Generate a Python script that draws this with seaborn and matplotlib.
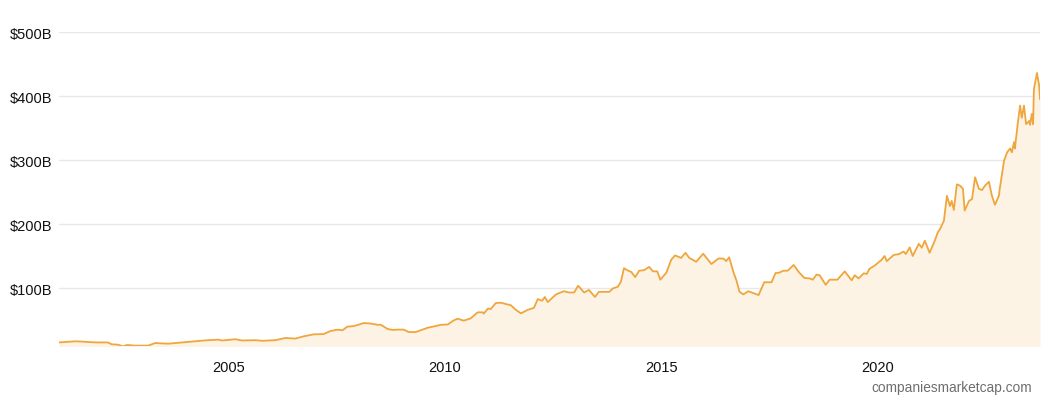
import matplotlib
matplotlib.use("Agg")
import matplotlib.pyplot as plt
import matplotlib.ticker as mticker
import numpy as np
import pandas as pd
import seaborn as sns

# market cap history (decimal year, billions USD)
years = [
    2001.09, 2001.46, 2001.57, 2001.92, 2002.22, 2002.31, 2002.45, 2002.57, 2002.66, 2002.85,
    2003.15, 2003.31, 2003.61, 2003.94, 2004.24, 2004.47, 2004.77, 2004.86, 2005.16, 2005.32,
    2005.63, 2005.79, 2006.09, 2006.32, 2006.55, 2006.74, 2006.97, 2007.20, 2007.36, 2007.52,
    2007.64, 2007.75, 2007.89, 2008.01, 2008.13, 2008.29, 2008.45, 2008.52, 2008.68, 2008.80,
    2008.91, 2009.05, 2009.17, 2009.33, 2009.49, 2009.61, 2009.75, 2009.91, 2010.07, 2010.21,
    2010.30, 2010.44, 2010.60, 2010.76, 2010.88, 2010.90, 2011.00, 2011.06, 2011.18, 2011.30,
    2011.41, 2011.53, 2011.64, 2011.76, 2011.92, 2012.06, 2012.15, 2012.25, 2012.31, 2012.38,
    2012.57, 2012.75, 2012.87, 2012.99, 2013.08, 2013.22, 2013.33, 2013.47, 2013.56, 2013.80,
    2013.89, 2014.00, 2014.07, 2014.14, 2014.24, 2014.31, 2014.40, 2014.49, 2014.61, 2014.72,
    2014.81, 2014.91, 2014.98, 2015.12, 2015.23, 2015.32, 2015.46, 2015.56, 2015.65, 2015.81,
    2015.97, 2016.16, 2016.32, 2016.44, 2016.50, 2016.57, 2016.67, 2016.74, 2016.81, 2016.90,
    2017.01, 2017.25, 2017.38, 2017.55, 2017.64, 2017.73, 2017.82, 2017.92, 2018.06, 2018.19,
    2018.31, 2018.43, 2018.50, 2018.59, 2018.66, 2018.80, 2018.89, 2019.07, 2019.24, 2019.40,
    2019.47, 2019.56, 2019.68, 2019.75, 2019.81, 2019.93, 2020.09, 2020.16, 2020.21, 2020.37,
    2020.49, 2020.60, 2020.65, 2020.74, 2020.81, 2020.95, 2021.02, 2021.09, 2021.20, 2021.32,
    2021.39, 2021.44, 2021.53, 2021.60, 2021.67, 2021.71, 2021.76, 2021.83, 2021.90, 2021.97,
    2022.01, 2022.11, 2022.18, 2022.25, 2022.34, 2022.41, 2022.48, 2022.57, 2022.64, 2022.71,
    2022.80, 2022.82, 2022.92, 2022.99, 2023.06, 2023.10, 2023.15, 2023.17, 2023.24, 2023.29,
    2023.33, 2023.38, 2023.43, 2023.50, 2023.52, 2023.56, 2023.59, 2023.61, 2023.68, 2023.73,
    2023.75,
]
market_cap = [
    15, 16.7, 16.5, 15, 15, 12, 11.5, 8.9, 11, 10,
    10, 14, 13, 15, 16.7, 18.2, 19.3, 18, 20, 18,
    18.5, 17.5, 18.5, 21.9, 21, 24.5, 27.6, 28, 32.8, 34.9,
    34, 39.6, 40.4, 42.7, 45.3, 44.5, 42.5, 42.7, 36, 34.5,
    35, 35, 31.2, 31.2, 35, 38, 40, 42.5, 43, 49.5,
    52, 49, 52.6, 62, 62, 60, 68, 67, 76.5, 77,
    75, 73, 66, 60.4, 66, 69, 82.8, 80, 86, 78,
    90, 95, 93, 93, 103.6, 93, 97, 86, 94, 94,
    99.5, 102, 110, 131, 127, 125, 117, 127, 128, 133,
    126, 126, 113, 124, 144, 151, 147, 155, 147, 141,
    153.6, 137.5, 146, 146, 142, 148, 124.5, 111.4, 94, 90,
    95, 89, 109, 109, 123.4, 124, 127, 127, 136, 124,
    115.6, 115, 113, 121, 120, 105, 113, 113, 126, 112,
    120, 115, 123, 122, 130, 135, 144, 150, 142, 151.6,
    153, 157, 153, 163.5, 150, 169, 163, 174, 155, 174,
    187, 192, 205, 244, 228, 236, 222, 262, 260, 255,
    221, 236, 239, 273, 255, 253, 260, 266, 244, 230,
    244, 255, 299, 312, 318, 312, 328, 318, 359, 385,
    366, 385, 356, 361, 355, 372, 356, 411, 436, 416,
    395,
]
y_ticks = [100, 200, 300, 400, 500]
x_ticks = [2005, 2010, 2015, 2020]

line_color = "#efa63c"
fill_color = "#fcf3e4"

sns.set_theme(style="white")
plt.rcParams["font.family"] = ["Liberation Sans", "DejaVu Sans"]

df = pd.DataFrame({"year": years, "cap": market_cap})

fig = plt.figure(figsize=(10.42, 4.06), dpi=100)
ax = fig.add_axes([59 / 1042, 1 - 347 / 406, 981 / 1042, 314 / 406])

ax.fill_between(df["year"], df["cap"], 0, color=fill_color, linewidth=0, zorder=1)
sns.lineplot(data=df, x="year", y="cap", ax=ax, color=line_color,
             linewidth=1.3, zorder=3)

ax.set_xlim(min(years), max(years))
ax.set_ylim(9.4, 500)
ax.set_yticks(y_ticks)
ax.set_xticks(x_ticks)
ax.yaxis.set_major_formatter(mticker.FuncFormatter(lambda v, p: f"${v:.0f}B"))
ax.xaxis.set_major_formatter(mticker.FuncFormatter(lambda v, p: f"{v:.0f}"))
ax.grid(True, axis="y", color="#e8e8e8", linewidth=1, zorder=0)
ax.set_axisbelow(True)
ax.set_xlabel("")
ax.set_ylabel("")
for s in ax.spines.values():
    s.set_visible(False)
ax.tick_params(axis="both", length=0, labelsize=10.5, colors="#111111")
ax.tick_params(axis="y", pad=5)
ax.tick_params(axis="x", pad=10)

fig.text(1032 / 1042, 1 - 388 / 406, "companiesmarketcap.com", ha="right",
         va="center", fontsize=9.9, color="#6e6e6e")

fig.savefig("out.png", dpi=100)
